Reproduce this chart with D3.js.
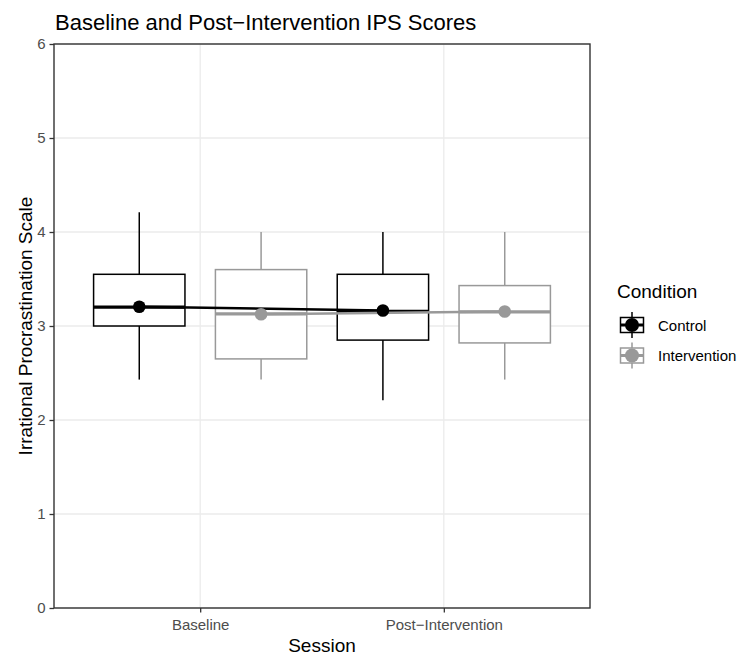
<!DOCTYPE html>
<html>
<head>
<meta charset="utf-8">
<script src="https://cdn.jsdelivr.net/npm/d3@7"></script>
<style>
  body { margin: 0; background: #fff; }
  svg text { font-family: "Liberation Sans", Arial, Helvetica, sans-serif; }
</style>
</head>
<body>
<div id="chart"></div>
<script>
const sessions = ["Baseline", "Post\u2212Intervention"];
const conditions = ["Control", "Intervention"];
const conditionColors = ["#000000", "#999999"];
const yTicks = [0, 1, 2, 3, 4, 5, 6];

// box stats per session: [lower whisker, q1, median, q3, upper whisker]
const controlBox = [
  [2.43, 3.00, 3.20, 3.55, 4.21],
  [2.21, 2.85, 3.155, 3.55, 4.00]
];
const interventionBox = [
  [2.43, 2.65, 3.13, 3.60, 4.00],
  [2.43, 2.82, 3.15, 3.43, 4.00]
];
const controlMeans = [3.205, 3.165];
const interventionMeans = [3.125, 3.155];

const width = 741, height = 658;
const panel = { left: 54, right: 590, top: 44, bottom: 608 };

const svg = d3.select("#chart")
  .append("svg")
  .attr("width", width)
  .attr("height", height);

const x = d3.scalePoint()
  .domain(sessions)
  .range([panel.left, panel.right])
  .padding(0.6);

const y = d3.scaleLinear()
  .domain([0, 6])
  .range([panel.bottom, panel.top]);

const step = x.step();
const offsets = [-0.25 * step, 0.25 * step];
const boxW = 0.375 * step;

// grid
const grid = svg.append("g");
grid.selectAll("line.h")
  .data(yTicks)
  .enter().append("line")
  .attr("x1", panel.left).attr("x2", panel.right)
  .attr("y1", (d) => y(d)).attr("y2", (d) => y(d))
  .attr("stroke", "#EBEBEB").attr("stroke-width", 1.3);
grid.selectAll("line.v")
  .data(sessions)
  .enter().append("line")
  .attr("x1", (d) => x(d)).attr("x2", (d) => x(d))
  .attr("y1", panel.top).attr("y2", panel.bottom)
  .attr("stroke", "#EBEBEB").attr("stroke-width", 1.3);

const boxes = [controlBox, interventionBox];
const means = [controlMeans, interventionMeans];

// boxplots
boxes.forEach((stats, ci) => {
  const g = svg.append("g")
    .attr("stroke", conditionColors[ci])
    .attr("fill", "none");
  stats.forEach((s, si) => {
    const cx = x(sessions[si]) + offsets[ci];
    g.append("line")
      .attr("x1", cx).attr("x2", cx)
      .attr("y1", y(s[4])).attr("y2", y(s[3]))
      .attr("stroke-width", 1.5);
    g.append("line")
      .attr("x1", cx).attr("x2", cx)
      .attr("y1", y(s[1])).attr("y2", y(s[0]))
      .attr("stroke-width", 1.5);
    g.append("rect")
      .attr("x", cx - boxW / 2)
      .attr("y", y(s[3]))
      .attr("width", boxW)
      .attr("height", y(s[1]) - y(s[3]))
      .attr("fill", "#fff")
      .attr("stroke-width", 1.5);
    g.append("line")
      .attr("x1", cx - boxW / 2).attr("x2", cx + boxW / 2)
      .attr("y1", y(s[2])).attr("y2", y(s[2]))
      .attr("stroke-width", 3.2);
  });
});

// mean lines and points
const line = d3.line()
  .x((d, i) => x(sessions[i]) + d.off)
  .y((d) => y(d.v));

means.forEach((m, ci) => {
  svg.append("path")
    .datum(m.map((v) => ({ v: v, off: offsets[ci] })))
    .attr("fill", "none")
    .attr("stroke", conditionColors[ci])
    .attr("stroke-width", 2.4)
    .attr("d", line);
});
means.forEach((m, ci) => {
  svg.selectAll(null)
    .data(m)
    .enter().append("circle")
    .attr("cx", (d, i) => x(sessions[i]) + offsets[ci])
    .attr("cy", (d) => y(d))
    .attr("r", 6.3)
    .attr("fill", conditionColors[ci]);
});

// panel border
svg.append("rect")
  .attr("x", panel.left).attr("y", panel.top)
  .attr("width", panel.right - panel.left)
  .attr("height", panel.bottom - panel.top)
  .attr("fill", "none")
  .attr("stroke", "#333333")
  .attr("stroke-width", 1.4);

// axes
const yAxis = svg.append("g")
  .attr("transform", `translate(${panel.left},0)`)
  .call(d3.axisLeft(y).tickValues(yTicks).tickFormat(d3.format("d")).tickSize(4.5).tickPadding(4));
const xAxis = svg.append("g")
  .attr("transform", `translate(0,${panel.bottom})`)
  .call(d3.axisBottom(x).tickSize(4.5).tickPadding(7));
[yAxis, xAxis].forEach((a) => {
  a.select(".domain").remove();
  a.selectAll(".tick line").attr("stroke", "#333333").attr("stroke-width", 1.3);
  a.selectAll(".tick text")
    .attr("fill", "#4D4D4D")
    .style("font-size", "15px");
});

// titles
svg.append("text")
  .attr("x", 55).attr("y", 30)
  .style("font-size", "22px")
  .text("Baseline and Post\u2212Intervention IPS Scores");

svg.append("text")
  .attr("x", (panel.left + panel.right) / 2)
  .attr("y", 652)
  .attr("text-anchor", "middle")
  .style("font-size", "19px")
  .text("Session");

svg.append("text")
  .attr("transform", `translate(32,${(panel.top + panel.bottom) / 2}) rotate(-90)`)
  .attr("text-anchor", "middle")
  .style("font-size", "19px")
  .text("Irrational Procrastination Scale");

// legend
const legend = svg.append("g").attr("transform", "translate(617,0)");
legend.append("text")
  .attr("x", 0).attr("y", 298)
  .style("font-size", "19px")
  .text("Condition");

conditions.forEach((c, i) => {
  const cy = 325 + i * 30.5;
  const k = legend.append("g")
    .attr("stroke", conditionColors[i])
    .attr("fill", "none");
  k.append("line")
    .attr("x1", 15).attr("x2", 15)
    .attr("y1", cy - 13).attr("y2", cy + 13)
    .attr("stroke-width", 1.5);
  k.append("rect")
    .attr("x", 3.5).attr("y", cy - 7.5)
    .attr("width", 23).attr("height", 15)
    .attr("fill", "#fff")
    .attr("stroke-width", 1.5);
  k.append("line")
    .attr("x1", 3.5).attr("x2", 26.5)
    .attr("y1", cy).attr("y2", cy)
    .attr("stroke-width", 3);
  legend.append("circle")
    .attr("cx", 15).attr("cy", cy)
    .attr("r", 7)
    .attr("fill", conditionColors[i]);
  legend.append("text")
    .attr("x", 41).attr("y", cy + 5.5)
    .style("font-size", "15px")
    .text(c);
});
</script>
</body>
</html>
